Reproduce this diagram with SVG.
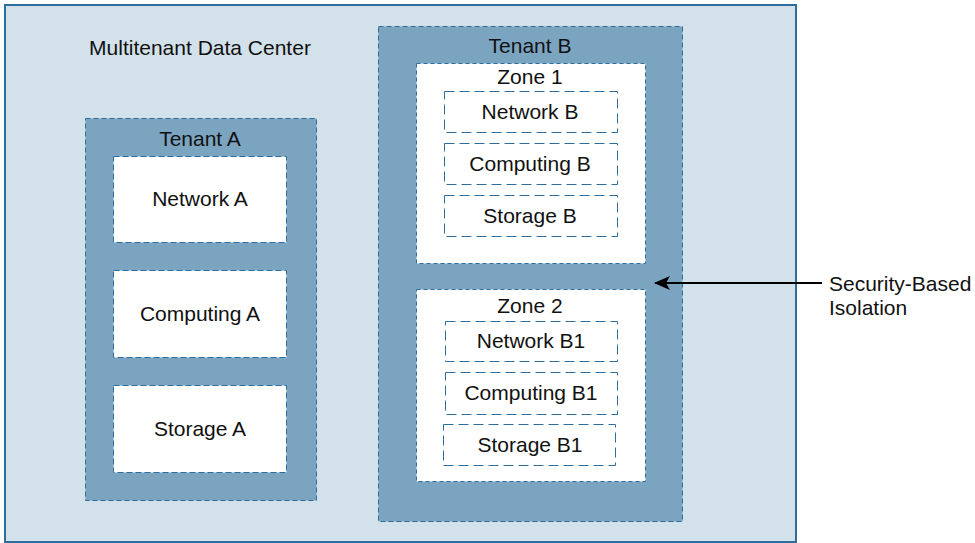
<svg xmlns="http://www.w3.org/2000/svg" width="975" height="543" viewBox="0 0 975 543">
<defs>
<style>
text{font-family:"Liberation Sans",Arial,sans-serif;font-size:21px;fill:#111;text-anchor:middle}
.outer{fill:#d3e1ea;stroke:#2e6e9c;stroke-width:2}
.tenant{fill:#7ba4c1;stroke:#2e6e9c;stroke-width:1;stroke-dasharray:5 3}
.box{fill:#fff;stroke:#2e6e9c;stroke-width:1;stroke-dasharray:6 3}
.zone{fill:#fff;stroke:#2e6e9c;stroke-width:1;stroke-dasharray:4 3}
.svc{fill:#fff;stroke:#2e6e9c;stroke-width:1;stroke-dasharray:10 5}
.lbl{text-anchor:start}
</style>
<marker id="ah" markerWidth="16" markerHeight="14" refX="15" refY="7" orient="auto" markerUnits="userSpaceOnUse">
<path d="M0,0 L16,7 L0,14 L4,7 Z" fill="#000"/>
</marker>
</defs>
<g id="datacenter">
<rect class="outer" x="5" y="5" width="791" height="537"/>
<text x="200" y="55">Multitenant Data Center</text>
</g>
<g id="tenantA">
<rect class="tenant" x="85.5" y="118.5" width="231" height="382"/>
<text x="200" y="146">Tenant A</text>
</g>
<g id="networkA"><rect class="box" x="113.5" y="156.5" width="173" height="86"/><text x="200" y="206">Network A</text></g>
<g id="computingA"><rect class="box" x="113.5" y="270.5" width="173" height="87"/><text x="200" y="321">Computing A</text></g>
<g id="storageA"><rect class="box" x="113.5" y="385.5" width="173" height="87"/><text x="200" y="436">Storage A</text></g>
<g id="tenantB">
<rect class="tenant" x="378.5" y="26.5" width="304" height="495"/>
<text x="530" y="53">Tenant B</text>
</g>
<g id="zone1">
<rect class="zone" x="416.5" y="63.5" width="229" height="200"/>
<text x="530" y="84">Zone 1</text>
</g>
<g id="networkB"><rect class="svc" x="444.5" y="91.5" width="173" height="41"/><text x="530" y="119">Network B</text></g>
<g id="computingB"><rect class="svc" x="444.5" y="143.5" width="173" height="41"/><text x="530" y="171">Computing B</text></g>
<g id="storageB"><rect class="svc" x="444.5" y="195.5" width="173" height="41"/><text x="530" y="223">Storage B</text></g>
<g id="zone2">
<rect class="zone" x="416.5" y="289.5" width="229" height="192"/>
<text x="530" y="313">Zone 2</text>
</g>
<g id="networkB1"><rect class="svc" x="445.5" y="321.5" width="172" height="40"/><text x="531" y="348">Network B1</text></g>
<g id="computingB1"><rect class="svc" x="445.5" y="372.5" width="172" height="42"/><text x="531" y="400">Computing B1</text></g>
<g id="storageB1"><rect class="svc" x="443.5" y="424.5" width="172" height="41"/><text x="530" y="452">Storage B1</text></g>
<g id="isolationLabel">
<text class="lbl" x="829" y="291">Security-Based</text>
<text class="lbl" x="829" y="315">Isolation</text>
</g>
<g id="connectors">
<line x1="822" y1="283" x2="655" y2="283" stroke="#000" stroke-width="2" marker-end="url(#ah)"/>
</g>
</svg>
